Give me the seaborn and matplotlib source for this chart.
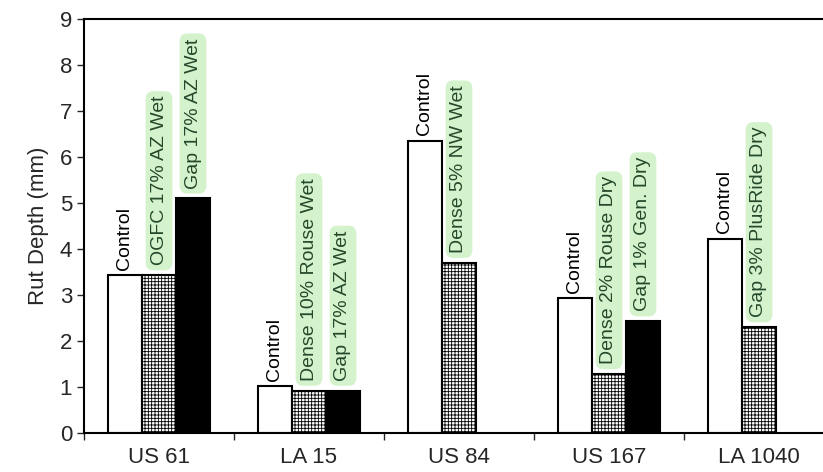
import pandas as pd
import matplotlib
matplotlib.use("Agg")
import matplotlib.pyplot as plt
import seaborn as sns

# rut depth per test section (mm)
roads = ["US 61", "LA 15", "US 84", "US 167", "LA 1040"]
sections = ["US 61", "US 61", "US 61",
            "LA 15", "LA 15", "LA 15",
            "US 84", "US 84",
            "US 167", "US 167", "US 167",
            "LA 1040", "LA 1040"]
slots = ["a", "b", "c",
         "a", "b", "c",
         "a", "b",
         "a", "b", "c",
         "a", "b"]
mixes = ["Control", "OGFC 17% AZ Wet", "Gap 17% AZ Wet",
         "Control", "Dense 10% Rouse Wet", "Gap 17% AZ Wet",
         "Control", "Dense 5% NW Wet",
         "Control", "Dense 2% Rouse Dry", "Gap 1% Gen. Dry",
         "Control", "Gap 3% PlusRide Dry"]
rut_depth = [3.43, 3.43, 5.1,
             1.02, 0.92, 0.92,
             6.35, 3.7,
             2.93, 1.28, 2.43,
             4.22, 2.3]

df = pd.DataFrame({"road": sections, "slot": slots, "mix": mixes, "rut": rut_depth})

sns.set_style("white")
plt.rcParams["font.family"] = ["Liberation Sans", "DejaVu Sans"]
plt.rcParams["hatch.linewidth"] = 0.6

fig = plt.figure(figsize=(8.23, 4.72), dpi=100)
ax = fig.add_axes([84 / 823, 1 - 433 / 472, 750 / 823, 414 / 472])

sns.barplot(data=df, x="road", y="rut", hue="slot", order=roads,
            hue_order=["a", "b", "c"],
            palette={"a": "white", "b": "white", "c": "black"},
            width=0.68, edgecolor="black", linewidth=1.5,
            legend=False, ax=ax)

# style the slots and put a label over every bar
for cont, slot in zip(ax.containers, ["a", "b", "c"]):
    sub = df[df.slot == slot]
    for bar, (_, row) in zip(cont, sub.iterrows()):
        if slot == "b":
            bar.set_hatch("+++++")
        x = bar.get_x() + bar.get_width() / 2
        if row.mix == "Control":
            ax.annotate(row.mix, (x, bar.get_height()), xytext=(0, 4),
                        textcoords="offset points", rotation=90,
                        ha="center", va="bottom", fontsize=14, color="black")
        else:
            ax.annotate(row.mix, (x, bar.get_height()), xytext=(0, 7),
                        textcoords="offset points", rotation=90,
                        ha="center", va="bottom", fontsize=14, color="#24492a",
                        bbox=dict(boxstyle="round,pad=0.25,rounding_size=0.4",
                                  fc="#d4f3cc", ec="none"))

ax.set_ylim(0, 9)
ax.set_xlim(-0.5, 4.5)
ax.set_yticks(range(10))
ax.set_xticks([i + 0.5 for i in range(-1, 5)], minor=True)
ax.tick_params(axis="x", which="major", length=0, labelsize=16, pad=10)
ax.tick_params(axis="x", which="minor", length=5, width=1, direction="out", bottom=True)
ax.tick_params(axis="y", length=5, width=1, direction="out", left=True, labelsize=16)
ax.set_xlabel("")
ax.set_ylabel("Rut Depth (mm)", fontsize=16, labelpad=8)
for s in ax.spines.values():
    s.set_color("black")
    s.set_linewidth(1.5)

fig.savefig("out.png", dpi=100)
